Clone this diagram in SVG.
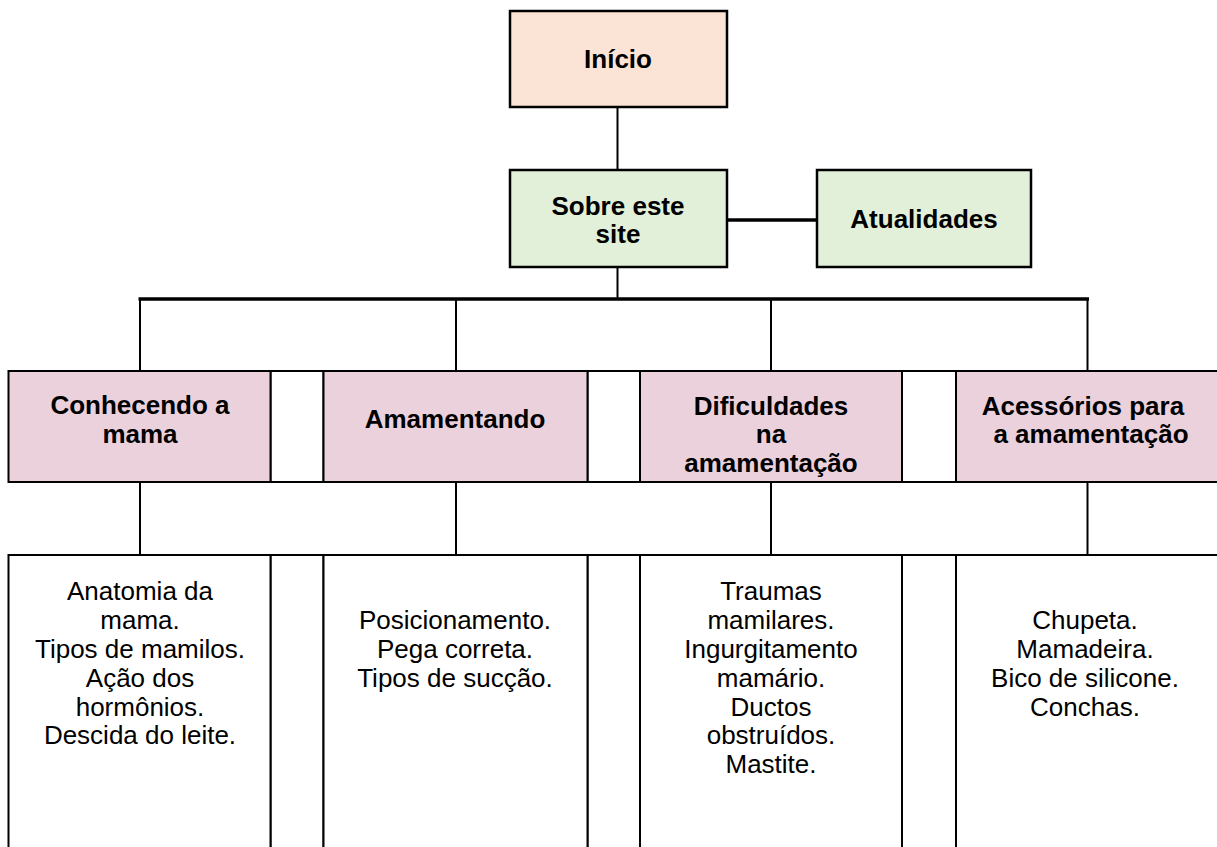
<svg xmlns="http://www.w3.org/2000/svg" width="1217" height="847" viewBox="0 0 1217 847">
<style>
  .box { stroke: #000; stroke-width: 2.5; }
  .cell { stroke: #000; stroke-width: 2; }
  .peach { fill: #fbe4d5; }
  .green { fill: #e2efd9; }
  .pink { fill: #ead1dc; }
  .white { fill: #ffffff; }
  .hd { font-family: "Liberation Sans", Arial, sans-serif; font-size: 26px; font-weight: bold; fill: #000; text-anchor: middle; }
  .bd { font-family: "Liberation Sans", Arial, sans-serif; font-size: 26px; fill: #000; text-anchor: middle; }
  .ln { stroke: #000; stroke-width: 2; fill: none; }
  .thick { stroke: #000; stroke-width: 3.5; fill: none; }
</style>
<rect width="1217" height="847" fill="#ffffff"/>

<g id="connectors">
  <line class="ln" x1="617.5" y1="107" x2="617.5" y2="170"/>
  <line class="ln" x1="617.5" y1="267" x2="617.5" y2="299"/>
  <line class="thick" x1="727" y1="220" x2="817" y2="220"/>
  <line class="thick" x1="138.5" y1="299" x2="1089" y2="299"/>
  <line class="ln" x1="140" y1="299" x2="140" y2="371"/>
  <line class="ln" x1="456" y1="299" x2="456" y2="371"/>
  <line class="ln" x1="771" y1="299" x2="771" y2="371"/>
  <line class="ln" x1="1087.5" y1="299" x2="1087.5" y2="371"/>
  <line class="ln" x1="140" y1="482" x2="140" y2="555"/>
  <line class="ln" x1="456" y1="482" x2="456" y2="555"/>
  <line class="ln" x1="771" y1="482" x2="771" y2="555"/>
  <line class="ln" x1="1087.5" y1="482" x2="1087.5" y2="555"/>
</g>

<g id="inicio">
  <rect class="box peach" x="510" y="11" width="217" height="96"/>
  <text class="hd" x="618" y="68">Início</text>
</g>

<g id="sobre">
  <rect class="box green" x="510" y="170" width="217" height="97"/>
  <text class="hd" x="618" y="215">Sobre este</text>
  <text class="hd" x="618" y="243">site</text>
</g>

<g id="atualidades">
  <rect class="box green" x="817" y="170" width="214" height="97"/>
  <text class="hd" x="924" y="228">Atualidades</text>
</g>

<g id="gaps">
  <rect class="cell white" x="270.5" y="371" width="53" height="111"/>
  <rect class="cell white" x="587.5" y="371" width="52.5" height="111"/>
  <rect class="cell white" x="902" y="371" width="54" height="111"/>
  <rect class="cell white" x="270.5" y="555" width="53" height="320"/>
  <rect class="cell white" x="587.5" y="555" width="52.5" height="320"/>
  <rect class="cell white" x="902" y="555" width="54" height="320"/>
</g>

<g id="conhecendo">
  <rect class="cell pink" x="8.5" y="371" width="262" height="111"/>
  <text class="hd" x="140" y="414">Conhecendo a</text>
  <text class="hd" x="140" y="443">mama</text>
</g>

<g id="amamentando">
  <rect class="cell pink" x="323.5" y="371" width="264" height="111"/>
  <text class="hd" x="455" y="428">Amamentando</text>
</g>

<g id="dificuldades">
  <rect class="cell pink" x="640" y="371" width="262" height="111"/>
  <text class="hd" x="771" y="415">Dificuldades</text>
  <text class="hd" x="771" y="443">na</text>
  <text class="hd" x="771" y="472">amamentação</text>
</g>

<g id="acessorios">
  <rect class="cell pink" x="956" y="371" width="264" height="111"/>
  <text class="hd" x="1083" y="415">Acessórios para</text>
  <text class="hd" x="1091" y="443">a amamentação</text>
</g>

<g id="conhecendo-itens">
  <rect class="cell white" x="8.5" y="555" width="262" height="320"/>
  <text class="bd" x="140" y="600">Anatomia da</text>
  <text class="bd" x="140" y="629">mama.</text>
  <text class="bd" x="140" y="658">Tipos de mamilos.</text>
  <text class="bd" x="140" y="687">Ação dos</text>
  <text class="bd" x="140" y="716">hormônios.</text>
  <text class="bd" x="140" y="744">Descida do leite.</text>
</g>

<g id="amamentando-itens">
  <rect class="cell white" x="323.5" y="555" width="264" height="320"/>
  <text class="bd" x="455" y="629">Posicionamento.</text>
  <text class="bd" x="455" y="658">Pega correta.</text>
  <text class="bd" x="455" y="687">Tipos de sucção.</text>
</g>

<g id="dificuldades-itens">
  <rect class="cell white" x="640" y="555" width="262" height="320"/>
  <text class="bd" x="771" y="600">Traumas</text>
  <text class="bd" x="771" y="629">mamilares.</text>
  <text class="bd" x="771" y="658">Ingurgitamento</text>
  <text class="bd" x="771" y="687">mamário.</text>
  <text class="bd" x="771" y="716">Ductos</text>
  <text class="bd" x="771" y="744">obstruídos.</text>
  <text class="bd" x="771" y="773">Mastite.</text>
</g>

<g id="acessorios-itens">
  <rect class="cell white" x="956" y="555" width="264" height="320"/>
  <text class="bd" x="1085" y="629">Chupeta.</text>
  <text class="bd" x="1085" y="658">Mamadeira.</text>
  <text class="bd" x="1085" y="687">Bico de silicone.</text>
  <text class="bd" x="1085" y="716">Conchas.</text>
</g>
</svg>
